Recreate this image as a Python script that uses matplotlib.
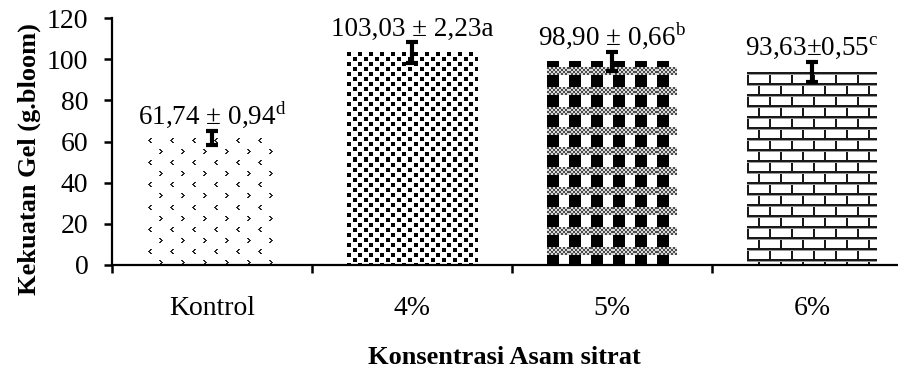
import matplotlib
matplotlib.use("Agg")
import matplotlib.pyplot as plt
import numpy as np

# data
categories = ["Kontrol", "4%", "5%", "6%"]
values = [61.74, 103.03, 98.90, 93.63]
errors = [3.2, 5.1, 4.6, 4.9]  # error bar half-lengths as drawn
labels = ["61,74 ± 0,94$^{\\mathrm{d}}$",
          "103,03 ± 2,23a",
          "98,90 ± 0,66$^{\\mathrm{b}}$",
          "93,63±0,55$^{\\mathrm{c}}$"]

plt.rcParams['font.family'] = ['Liberation Serif', 'DejaVu Serif']
plt.rcParams['mathtext.fontset'] = 'custom'
plt.rcParams['mathtext.rm'] = 'Liberation Serif'


# fill textures (1 = white, 0 = black), one small tile per bar
def tile_chevrons():
    t = np.ones((22, 22))
    lt = np.array([[0, 0, 1, 1],
                   [0, 1, 1, 0],
                   [1, 1, 0, 0],
                   [0, 1, 1, 0],
                   [0, 0, 1, 1]])
    t[1:6, 1:5][lt == 1] = 0.15
    t[12:17, 12:16][lt[:, ::-1] == 1] = 0.15
    return t


def tile_squares():
    t = np.ones((10, 11))
    t[0:4, 0:4] = 0.0
    t[5:9, 6:10] = 0.0
    return t


def tile_gingham():
    t = np.ones((20, 22))
    t[:, 0:12] = 0.0
    r, c = np.mgrid[0:8, 0:22]
    t[6:14, :] = np.where((r // 2 + c // 2) % 2 == 0, 0.3, 0.85)
    return t


def tile_bricks():
    t = np.ones((22, 22))
    t[0:2, :] = 0.1
    t[2, :] = 0.6
    t[11:13, :] = 0.1
    t[13, :] = 0.6
    t[3:11, 0:2] = 0.1
    t[14:22, 11:13] = 0.1
    return t


tiles = [tile_chevrons(), tile_squares(), tile_gingham(), tile_bricks()]

fig = plt.figure(figsize=(8.98, 3.67), dpi=100)
ax = fig.add_axes([112 / 898, 1 - 265 / 367, (897 - 112) / 898, (265 - 18) / 367])
ax.set_ylim(0, 120)
ax.set_xlim(-0.5, 3.425)

x = np.arange(len(categories))
bars = ax.bar(x, values, width=0.65, color='none', linewidth=0, zorder=2)

for bar, tile in zip(bars, tiles):
    x0, y0 = bar.get_x(), bar.get_y()
    x1, y1 = x0 + bar.get_width(), y0 + bar.get_height()
    (px0, py0), (px1, py1) = ax.transData.transform([(x0, y0), (x1, y1)])
    w_px, h_px = int(round(px1 - px0)), int(round(py1 - py0))
    reps = (h_px // tile.shape[0] + 1, w_px // tile.shape[1] + 1)
    img = np.tile(tile, reps)[:h_px, :w_px]
    ax.imshow(img, extent=(x0, x1, y0, y1), cmap='gray', vmin=0, vmax=1,
              interpolation='nearest', aspect='auto', clip_path=bar, zorder=2)

ax.errorbar(x, values, yerr=errors, fmt='none', ecolor='black',
            elinewidth=3, capsize=4, capthick=3, zorder=5)

for xi, v, e, t in zip(x, values, errors, labels):
    ax.annotate(t, (xi, v + e), xytext=(0, 5), textcoords='offset points',
                ha='center', va='baseline', fontsize=19.5)

ax.set_ylim(0, 120)
ax.set_xlim(-0.5, 3.425)
ax.set_yticks(range(0, 121, 20))
ax.set_xticks(x)
ax.set_xticklabels(categories)
ax.set_xticks([-0.5, 0.5, 1.5, 2.5], minor=True)
ax.tick_params(axis='x', which='major', length=0, pad=22, labelsize=20)
ax.tick_params(axis='x', which='minor', length=6, width=1.8, direction='out')
ax.tick_params(axis='y', length=6, width=1.8, direction='out', pad=11, labelsize=20)

for s in ['top', 'right']:
    ax.spines[s].set_visible(False)
for s in ['left', 'bottom']:
    ax.spines[s].set_linewidth(1.6)

ax.set_xlabel('Konsentrasi Asam sitrat', fontsize=19, fontweight='bold', labelpad=18)
ax.set_ylabel('Kekuatan Gel (g.bloom)', fontsize=19, fontweight='bold')
ax.yaxis.set_label_coords(-0.09, 0.43)

fig.savefig('out.png', dpi=100)
